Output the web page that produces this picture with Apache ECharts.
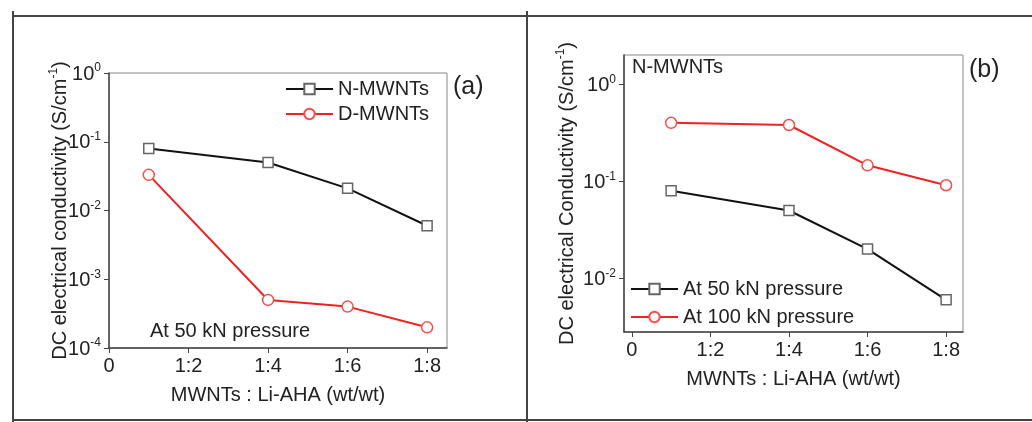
<!DOCTYPE html>
<html>
<head>
<meta charset="utf-8">
<script src="https://cdn.jsdelivr.net/npm/echarts@6/dist/echarts.min.js"></script>
<style>
html, body {margin: 0; padding: 0; background: #fff;}
#main {width: 1032px; height: 422px;}
</style>
</head>
<body>
<div id="main"></div>
<script>
/* data */
const ratioX = [1, 4, 6, 8];
const nMwnts = [0.08, 0.05, 0.021, 0.006];
const dMwnts = [0.033, 0.0005, 0.0004, 0.0002];
const at50kN = [0.08, 0.05, 0.02, 0.006];
const at100kN = [0.40, 0.38, 0.146, 0.091];
const xTicks = [0, 2, 4, 6, 8];
const xTickLabels = ['0', '1:2', '1:4', '1:6', '1:8'];
const yTicksA = [0.0001, 0.001, 0.01, 0.1, 1];
const yTicksB = [0.01, 0.1, 1];

const FONT = 'Liberation Sans, Arial, sans-serif';
const supRich = {
  base: {fontSize: 20, fontFamily: FONT, color: '#222', lineHeight: 22, verticalAlign: 'bottom'},
  sup: {fontSize: 12, fontFamily: FONT, color: '#222', lineHeight: 12, verticalAlign: 'top'}
};

function pairs(xs, ys) {
  return xs.map((x, i) => [x, ys[i]]);
}

function xAxisOpt(idx, min, max) {
  return {
    type: 'value', gridIndex: idx, min: min, max: max,
    name: 'MWNTs : Li-AHA (wt/wt)', nameLocation: 'middle', nameGap: 37,
    nameMoveOverlap: false,
    nameTextStyle: {fontSize: 20, fontFamily: FONT, color: '#222'},
    splitLine: {show: false},
    axisLine: {onZero: false, lineStyle: {color: '#444', width: 1.5}},
    axisTick: {customValues: xTicks, length: 5, lineStyle: {color: '#444'}},
    axisLabel: {
      customValues: xTicks, margin: 8, fontSize: 20, fontFamily: FONT, color: '#222',
      formatter: v => xTickLabels[xTicks.indexOf(v)]
    }
  };
}

function yAxisOpt(idx, min, max, ticks, name, gap) {
  return {
    type: 'log', logBase: 10, gridIndex: idx, min: min, max: max,
    name: '{base|' + name + ' (S/cm}{sup|-1}{base|)}',
    nameLocation: 'middle', nameRotate: 90, nameGap: gap,
    nameMoveOverlap: false,
    nameTextStyle: {rich: supRich},
    splitLine: {show: false},
    minorTick: {show: false},
    axisLine: {onZero: false, lineStyle: {color: '#444', width: 1.5}},
    axisTick: {customValues: ticks, length: 5, lineStyle: {color: '#444'}},
    axisLabel: {
      customValues: ticks, margin: 8, rich: supRich,
      formatter: v => '{base|10}{sup|' + Math.round(Math.log10(v)) + '}'
    }
  };
}

function squareSeries(name, x, y, data) {
  return {
    name: name, type: 'line', xAxisIndex: x, yAxisIndex: y, data: data,
    symbol: 'rect', symbolSize: 10,
    lineStyle: {color: '#111', width: 2},
    itemStyle: {color: '#fff', borderColor: '#666', borderWidth: 1.5},
    z: 3
  };
}

function circleSeries(name, x, y, data) {
  return {
    name: name, type: 'line', xAxisIndex: x, yAxisIndex: y, data: data,
    symbol: 'circle', symbolSize: 11,
    lineStyle: {color: '#ee2222', width: 2},
    itemStyle: {color: '#fff', borderColor: '#f25050', borderWidth: 1.5},
    z: 3
  };
}

const chart = echarts.init(document.getElementById('main'));
chart.setOption({
  backgroundColor: '#fff',
  animation: false,
  textStyle: {fontFamily: FONT},
  grid: [
    {left: 109, top: 73, width: 338, height: 275, show: true, borderColor: '#888', borderWidth: 1, backgroundColor: 'transparent'},
    {left: 624, top: 55, width: 339, height: 277, show: true, borderColor: '#888', borderWidth: 1, backgroundColor: 'transparent'}
  ],
  xAxis: [xAxisOpt(0, 0, 8.5), xAxisOpt(1, -0.2, 8.43)],
  yAxis: [
    yAxisOpt(0, 0.0001, 1, yTicksA, 'DC electrical conductivity', 39),
    yAxisOpt(1, 0.0028, 2, yTicksB, 'DC electrical Conductivity', 47)
  ],
  legend: [
    {
      data: ['N-MWNTs', 'D-MWNTs'], orient: 'vertical', left: 285, top: 79, padding: 0,
      itemWidth: 47, itemHeight: 13, itemGap: 5,
      textStyle: {fontSize: 20, fontFamily: FONT, color: '#222'}
    },
    {
      data: ['At 50 kN pressure', 'At 100 kN pressure'], orient: 'vertical', left: 630, top: 279, padding: 0,
      itemWidth: 47, itemHeight: 13, itemGap: 8,
      textStyle: {fontSize: 20, fontFamily: FONT, color: '#222'}
    }
  ],
  series: [
    squareSeries('N-MWNTs', 0, 0, pairs(ratioX, nMwnts)),
    circleSeries('D-MWNTs', 0, 0, pairs(ratioX, dMwnts)),
    squareSeries('At 50 kN pressure', 1, 1, pairs(ratioX, at50kN)),
    circleSeries('At 100 kN pressure', 1, 1, pairs(ratioX, at100kN))
  ],
  graphic: [
    {type: 'line', shape: {x1: 13, y1: 16, x2: 1032, y2: 16}, style: {stroke: '#444', lineWidth: 2}},
    {type: 'line', shape: {x1: 13, y1: 420, x2: 1032, y2: 420}, style: {stroke: '#444', lineWidth: 2}},
    {type: 'line', shape: {x1: 13, y1: 11, x2: 13, y2: 422}, style: {stroke: '#444', lineWidth: 2}},
    {type: 'line', shape: {x1: 527, y1: 11, x2: 527, y2: 422}, style: {stroke: '#444', lineWidth: 2}},
    {type: 'text', left: 150, top: 321, style: {text: 'At 50 kN pressure', font: '20px ' + FONT, fill: '#222'}},
    {type: 'text', left: 632, top: 57, style: {text: 'N-MWNTs', font: '20px ' + FONT, fill: '#222'}},
    {type: 'text', left: 453, top: 75, style: {text: '(a)', font: '25px ' + FONT, fill: '#222'}},
    {type: 'text', left: 969, top: 58, style: {text: '(b)', font: '25px ' + FONT, fill: '#222'}}
  ]
});
</script>
</body>
</html>
